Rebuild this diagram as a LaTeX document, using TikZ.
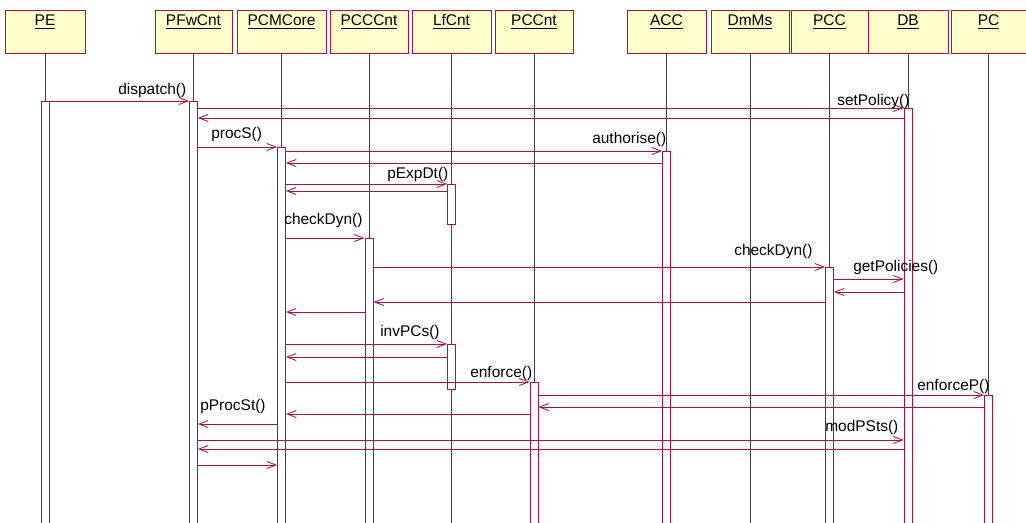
\documentclass[tikz,border=0pt]{standalone}
\usepackage{fontspec}
\setmainfont{Liberation Sans}
\usetikzlibrary{arrows.meta}

\definecolor{umlred}{RGB}{165,20,65}
\definecolor{umlyellow}{RGB}{255,255,204}
\def\px{0.025cm} % one pixel of the sketch

\begin{document}
\begin{tikzpicture}[x=\px, y=-\px, font=\fontsize{11}{13}\selectfont,
  hdr/.style={draw=umlred, fill=umlyellow, anchor=north, inner sep=2pt,
    text height=9pt, text depth=17.6pt, line width=0.6pt},
  life/.style={black!75, line width=0.5pt},
  bar/.style={draw=umlred, fill=white, line width=0.6pt, anchor=north,
    inner sep=0pt, minimum width=8*\px},
  msg/.style={umlred, line width=0.6pt, -{Straight Barb[length=6.5pt, width=5pt]}},
  lbl/.style={anchor=south west, inner sep=0pt}]

\useasboundingbox (0,0) rectangle (1026,522);

% --- 1. OBJECT HEADERS AND LIFELINES ---
\foreach \n/\x/\w/\t in {pe/45/80/PE, pfw/193.5/77/PFwCnt, core/281.5/89/PCMCore,
    ccc/369/78/PCCCnt, lf/451.5/79/LfCnt, pccnt/534/78/PCCnt, acc/666.5/79/ACC,
    dmms/750/78/DmMs, pcc/829.5/77/PCC, db/908/80/DB, pc/988.5/75/PC} {
  \node[hdr, minimum width=\w*\px] (\n) at (\x,10) {\underline{\t}};
  \draw[life] (\n.south) -- (\n.south |- 0,530);
}

% --- 2. ACTIVATION BARS ---
\node[bar, minimum height=429*\px] (pebar)    at (pe.south |- 0,101) {};
\node[bar, minimum height=429*\px] (pfwbar)   at (pfw.south |- 0,101) {};
\node[bar, minimum height=422*\px] (dbbar)    at (db.south |- 0,108) {};
\node[bar, minimum height=383*\px] (corebar)  at (core.south |- 0,147) {};
\node[bar, minimum height=379*\px] (accbar)   at (acc.south |- 0,151) {};
\node[bar, minimum height=40*\px]  (lfbarA)   at (lf.south |- 0,184) {};
\node[bar, minimum height=292*\px] (cccbar)   at (ccc.south |- 0,238) {};
\node[bar, minimum height=263*\px] (pccbar)   at (pcc.south |- 0,267) {};
\node[bar, minimum height=45*\px]  (lfbarB)   at (lf.south |- 0,344) {};
\node[bar, minimum height=148*\px] (pccntbar) at (pccnt.south |- 0,382) {};
\node[bar, minimum height=135*\px] (pcbar)    at (pc.south |- 0,395) {};

% --- 3. MESSAGES ---
\draw[msg] (pebar.east |- 0,101)    -- (pfwbar.west |- 0,101);
\draw[msg] (pfwbar.east |- 0,108)   -- (dbbar.west |- 0,108);
\draw[msg] (dbbar.west |- 0,118)    -- (pfwbar.east |- 0,118);
\draw[msg] (pfwbar.east |- 0,147)   -- (corebar.west |- 0,147);
\draw[msg] (corebar.east |- 0,151)  -- (accbar.west |- 0,151);
\draw[msg] (accbar.west |- 0,163)   -- (corebar.east |- 0,163);
\draw[msg] (corebar.east |- 0,184)  -- (lfbarA.west |- 0,184);
\draw[msg] (lfbarA.west |- 0,191)   -- (corebar.east |- 0,191);
\draw[msg] (corebar.east |- 0,238)  -- (cccbar.west |- 0,238);
\draw[msg] (cccbar.east |- 0,267)   -- (pccbar.west |- 0,267);
\draw[msg] (pccbar.east |- 0,279)   -- (dbbar.west |- 0,279);
\draw[msg] (dbbar.west |- 0,292)    -- (pccbar.east |- 0,292);
\draw[msg] (pccbar.west |- 0,302)   -- (cccbar.east |- 0,302);
\draw[msg] (cccbar.west |- 0,312)   -- (corebar.east |- 0,312);
\draw[msg] (corebar.east |- 0,344)  -- (lfbarB.west |- 0,344);
\draw[msg] (lfbarB.west |- 0,357)   -- (corebar.east |- 0,357);
\draw[msg] (corebar.east |- 0,382)  -- (pccntbar.west |- 0,382);
\draw[msg] (pccntbar.east |- 0,395) -- (pcbar.west |- 0,395);
\draw[msg] (pcbar.west |- 0,407)    -- (pccntbar.east |- 0,407);
\draw[msg] (pccntbar.west |- 0,414) -- (corebar.east |- 0,414);
\draw[msg] (corebar.west |- 0,424)  -- (pfwbar.east |- 0,424);
\draw[msg] (pfwbar.east |- 0,440)   -- (dbbar.west |- 0,440);
\draw[msg] (dbbar.west |- 0,449)    -- (pfwbar.east |- 0,449);
\draw[msg] (pfwbar.east |- 0,465)   -- (corebar.west |- 0,465);

% --- 4. MESSAGE LABELS ---
\node[lbl] (tDispatch)  at (118,98)    {dispatch()};
\node[lbl] (tSetPolicy) at (837,108.5) {setPolicy()};
\node[lbl] (tProcS)     at (211,142)   {procS()};
\node[lbl] (tAuthorise) at (592,147)   {authorise()};
\node[lbl] (tExpDt)     at (387,182)   {pExpDt()};
\node[lbl] (tCheckA)    at (284,228)   {checkDyn()};
\node[lbl] (tCheckB)    at (734,259)   {checkDyn()};
\node[lbl] (tGetPol)    at (853,275)   {getPolicies()};
\node[lbl] (tInvPCs)    at (380,340)   {invPCs()};
\node[lbl] (tEnforce)   at (470,381)   {enforce()};
\node[lbl] (tEnforceP)  at (917,394)   {enforceP()};
\node[lbl] (tProcSt)    at (200,414)   {pProcSt()};
\node[lbl] (tModPSts)   at (825,435)   {modPSts()};

\end{tikzpicture}
\end{document}
